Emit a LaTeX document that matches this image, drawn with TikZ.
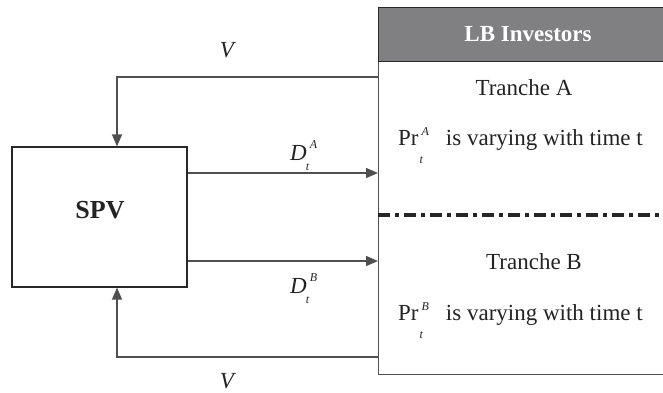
\documentclass[tikz,border=0pt]{standalone}
\usepackage{fontspec}
\setmainfont{Liberation Serif}
\usetikzlibrary{arrows.meta,calc}
\definecolor{linegray}{RGB}{80,80,80}
\definecolor{framedark}{RGB}{40,40,40}
\definecolor{headgray}{RGB}{128,128,131}
\definecolor{ink}{RGB}{35,35,35}
% small italic index pair: #1 below, #2 above, with their drops/raises
\newcommand{\idxpair}[5]{%
  \makebox[0pt][l]{\kern#5\raisebox{#3}{\fontsize{12}{12}\selectfont\itshape #1}}%
  \raisebox{#4}{\fontsize{12}{12}\selectfont\itshape\kern3pt #2}}
\tikzset{
  box/.style={draw=framedark, line width=1.2pt, inner sep=0pt},
  flow/.style={draw=linegray, line width=1.4pt},
  arr/.style={flow, -{Triangle[length=12pt,width=10pt]}},
  lbl/.style={font=\fontsize{23}{27}\selectfont, text=ink, inner sep=0pt, anchor=base},
}
\begin{document}
\begin{tikzpicture}[x=1pt,y=-1pt]
\useasboundingbox (0,0) rectangle (663,392);
\clip (0,0) rectangle (663,392);

% special purpose vehicle
\node[box, minimum width=175pt, minimum height=140pt] (spv) at (99.5,217) {};
\node[lbl, font=\fontsize{26}{30}\selectfont\bfseries] (spvtxt) at (100,218) {SPV};

% investor box with grey header
\node[box, draw=linegray, minimum width=300pt, minimum height=367pt, anchor=north west] (inv) at (378,7) {};
\node[box, fill=headgray, minimum width=300pt, minimum height=54pt, anchor=north west] (head) at (378,7) {};
\node[lbl, text=white, font=\fontsize{23}{27}\selectfont\bfseries] (headtxt) at (528,41) {LB Investors};

% tranche contents
\node[lbl] (ta) at (524,95) {Tranche A};
\node[lbl, anchor=base west] (pra) at (398,145) {Pr\idxpair{t}{A}{-18pt}{10pt}{1pt}\hspace{17pt}is varying with time t};
\draw[draw=black!85, line width=4pt, dash pattern=on 12pt off 5pt on 4pt off 5pt] (inv.west |- 0,215) -- (670,215);
\node[lbl] (tb) at (534,269) {Tranche B};
\node[lbl, anchor=base west] (prb) at (398,320) {Pr\idxpair{t}{B}{-18pt}{10pt}{1pt}\hspace{17pt}is varying with time t};

% flows
\coordinate (vtop) at (117,77);
\coordinate (vbot) at (117,357);
\coordinate (da) at (0,173);
\coordinate (db) at (0,261);
\draw[arr] (inv.west |- vtop) -| (spv.north -| vtop);
\draw[arr] (inv.west |- vbot) -| (spv.south -| vbot);
\draw[arr] (spv.east |- da) -- (inv.west |- da);
\draw[arr] (spv.east |- db) -- (inv.west |- db);

% flow labels
\node[lbl, font=\fontsize{23}{27}\selectfont\itshape] (lv1) at (227,57) {V};
\node[lbl, font=\fontsize{23}{27}\selectfont\itshape] (lv2) at (227,388) {V};
\node[lbl, anchor=base west] (lda) at (290,160) {\textit{D}\idxpair{t}{A}{-10pt}{12pt}{-1pt}};
\node[lbl, anchor=base west] (ldb) at (290,293) {\textit{D}\idxpair{t}{B}{-10pt}{12pt}{-1pt}};
\end{tikzpicture}
\end{document}
